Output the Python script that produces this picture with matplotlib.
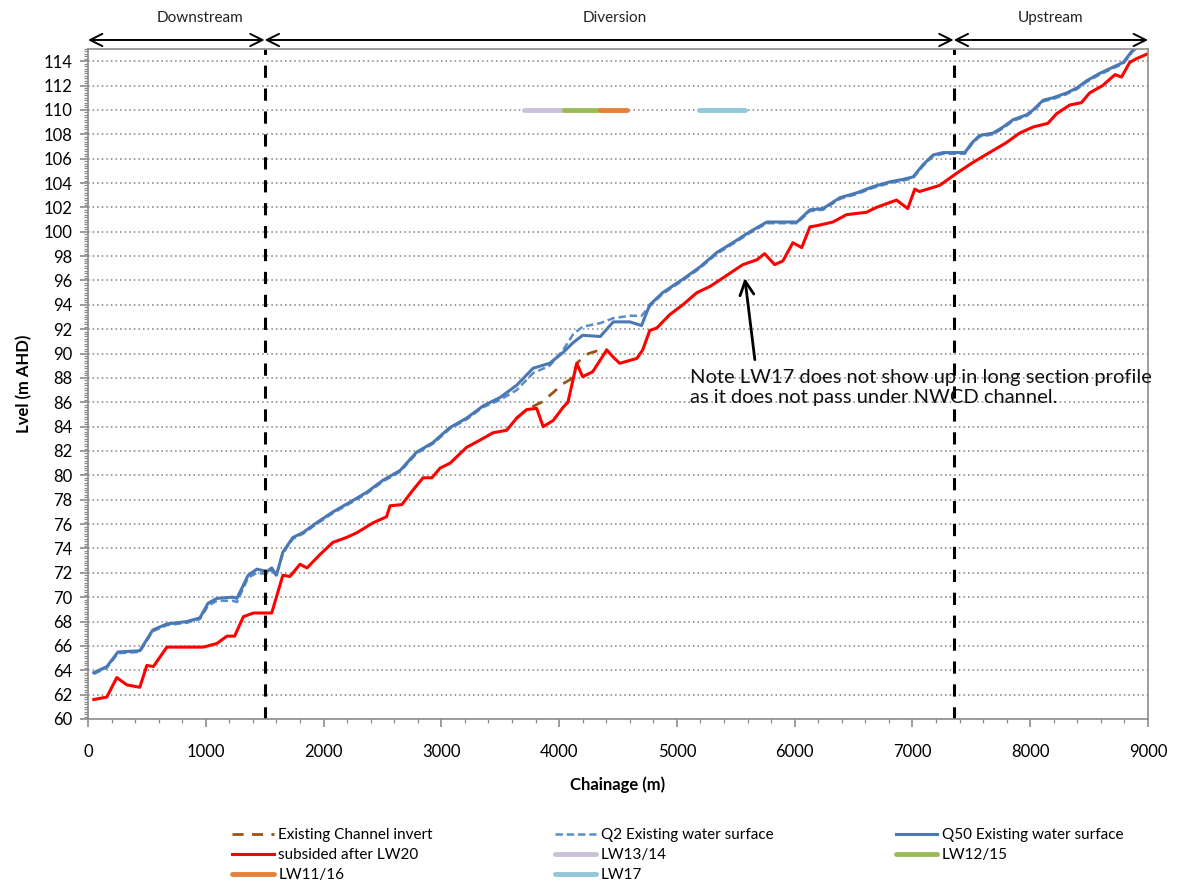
"""
Long section profile: channel invert, water surfaces and subsided bed level
along the chainage, with downstream / diversion / upstream reaches marked.
"""

import matplotlib.pyplot as plt
from matplotlib.ticker import MultipleLocator

plt.rcParams.update({
    'font.family': ['Lato', 'DejaVu Sans'],
    'font.size': 11,
})

# Q50 existing water surface (solid blue) and Q2 (dashed blue)
ws_chainage = [50, 160, 255, 440, 550, 670, 840, 950, 1020, 1095, 1230, 1265,
               1360, 1435, 1520, 1560, 1600, 1655, 1740, 1825, 1940, 2080,
               2225, 2365, 2505, 2650, 2790, 2930, 3070, 3215, 3355, 3500,
               3640, 3780, 3920, 4035, 4120, 4200, 4350, 4460, 4600, 4700,
               4770, 4880, 5050, 5195, 5340, 5475, 5620, 5765, 5900, 6020,
               6130, 6240, 6385, 6530, 6665, 6810, 6920, 7005, 7090, 7175,
               7260, 7445, 7505, 7570, 7685, 7770, 7855, 7970, 8025, 8110,
               8195, 8310, 8395, 8480, 8590, 8700, 8790, 8870, 8920]
q50_level = [63.8, 64.3, 65.5, 65.6, 67.3, 67.8, 68.0, 68.3, 69.5, 69.9, 70.0,
             69.9, 71.8, 72.3, 72.1, 72.4, 71.8, 73.7, 74.9, 75.3, 76.1, 77.0,
             77.8, 78.6, 79.6, 80.4, 81.9, 82.7, 83.9, 84.7, 85.7, 86.4, 87.4,
             88.8, 89.2, 90.1, 90.9, 91.5, 91.4, 92.6, 92.6, 92.3, 94.0, 95.0,
             96.1, 97.1, 98.3, 99.1, 100.0, 100.8, 100.8, 100.8, 101.8, 101.9,
             102.8, 103.2, 103.7, 104.1, 104.3, 104.5, 105.5, 106.3, 106.5,
             106.5, 107.3, 107.9, 108.1, 108.6, 109.2, 109.6, 110.0, 110.8,
             111.0, 111.4, 111.8, 112.4, 113.0, 113.5, 113.9, 114.9, 115.3]
q2_level = [63.7, 64.2, 65.4, 65.5, 67.2, 67.7, 67.9, 68.2, 69.3, 69.7, 69.7,
            69.6, 71.6, 72.0, 71.9, 72.2, 71.8, 73.6, 74.8, 75.2, 76.0, 76.9,
            77.7, 78.5, 79.5, 80.3, 81.8, 82.6, 83.8, 84.6, 85.6, 86.2, 87.0,
            88.4, 89.0, 90.3, 91.6, 92.2, 92.5, 92.9, 93.1, 93.1, 93.9, 94.9,
            96.0, 97.0, 98.2, 99.0, 99.9, 100.7, 100.7, 100.7, 101.7, 101.8,
            102.7, 103.1, 103.6, 104.0, 104.2, 104.4, 105.4, 106.2, 106.4,
            106.4, 107.2, 107.8, 108.0, 108.5, 109.1, 109.5, 109.9, 110.7,
            110.9, 111.3, 111.7, 112.3, 112.9, 113.4, 113.8, 114.8, 115.2]

# bed level subsided after LW20
sub_chainage = [50, 160, 245, 330, 440, 500, 555, 670, 980, 1095, 1180, 1245,
                1320, 1405, 1560, 1655, 1715, 1800, 1860, 1970, 2080, 2195,
                2285, 2420, 2535, 2565, 2665, 2760, 2845, 2920, 2990, 3075,
                3215, 3330, 3440, 3555, 3640, 3725, 3810, 3865, 3950, 4035,
                4075, 4150, 4200, 4285, 4405, 4460, 4515, 4660, 4710, 4770,
                4830, 4940, 5050, 5170, 5280, 5390, 5560, 5680, 5745, 5830,
                5900, 5985, 6060, 6130, 6190, 6325, 6440, 6610, 6695, 6865,
                6960, 7020, 7060, 7230, 7375, 7515, 7655, 7795, 7910, 8025,
                8150, 8225, 8335, 8435, 8505, 8615, 8720, 8775, 8845, 8900, 8995]
sub_level = [61.6, 61.8, 63.4, 62.8, 62.6, 64.4, 64.3, 65.9, 65.9, 66.2, 66.8,
             66.8, 68.4, 68.7, 68.7, 71.8, 71.7, 72.7, 72.4, 73.5, 74.5, 74.9,
             75.3, 76.1, 76.6, 77.5, 77.6, 78.8, 79.8, 79.8, 80.6, 81.0, 82.3,
             82.9, 83.5, 83.7, 84.7, 85.4, 85.5, 84.0, 84.5, 85.6, 86.0, 89.2,
             88.1, 88.5, 90.3, 89.7, 89.2, 89.6, 90.3, 91.9, 92.1, 93.2, 94.0,
             95.0, 95.5, 96.2, 97.3, 97.7, 98.2, 97.3, 97.6, 99.1, 98.7, 100.4,
             100.5, 100.8, 101.4, 101.6, 102.0, 102.6, 101.9, 103.5, 103.3,
             103.8, 104.8, 105.7, 106.5, 107.3, 108.1, 108.6, 108.9, 109.7,
             110.4, 110.6, 111.4, 112.0, 112.9, 112.7, 113.9, 114.2, 114.6]

# existing channel invert where it departs from the subsided profile
inv_chainage = [3640, 3725, 3850, 3950, 4030, 4100, 4160, 4250, 4350, 4405]
inv_level = [84.7, 85.4, 86.0, 86.8, 87.5, 87.9, 89.3, 90.0, 90.3, 90.3]

# longwall panel extents (start, end) shown at 110 m AHD
panel_names = ['LW13/14', 'LW12/15', 'LW11/16', 'LW17']
panel_start = [3700, 4040, 4350, 5190]
panel_end = [4040, 4350, 4580, 5580]
panel_level = 110
panel_colors = ['#CCC0DA', '#9BBB59', '#E3823B', '#93C6D8']

# reach boundaries and where their names sit
reach_bounds = [0, 1500, 7350, 9000]
reach_names = ['Downstream', 'Diversion', 'Upstream']
reach_label_x = [950, 4470, 8170]

fig = plt.figure(figsize=(11.79, 8.85), dpi=100)
ax = fig.add_axes([0.0746, 0.1876, 0.8991, 0.757])

h_inv, = ax.plot(inv_chainage, inv_level, color='#9A5418', lw=2.0,
                 dashes=(4, 3), label='Existing Channel invert')
h_q2, = ax.plot(ws_chainage, q2_level, color='#5B8DCA', lw=1.8,
                dashes=(3, 1.5), label='Q2 Existing water surface')
h_q50, = ax.plot(ws_chainage, q50_level, color='#4A78B4', lw=2.2,
                 solid_joinstyle='round', label='Q50 Existing water surface')
h_sub, = ax.plot(sub_chainage, sub_level, color='#FF0000', lw=2.2,
                 solid_joinstyle='round', label='subsided after LW20')

h_panels = []
for name, x0, x1, c in zip(panel_names, panel_start, panel_end, panel_colors):
    h, = ax.plot([x0, x1], [panel_level, panel_level], color=c, lw=3.5,
                 solid_capstyle='round', label=name)
    h_panels.append(h)

for xb in reach_bounds[1:3]:
    ax.axvline(xb, color='black', lw=2.2, dashes=(4, 3.5))

# reach arrows and names above the plot area
for i, name in enumerate(reach_names):
    x0, x1 = reach_bounds[i], reach_bounds[i + 1]
    ax.annotate('', xy=(x0, 1.0135), xytext=(x1, 1.0135),
                xycoords=('data', 'axes fraction'),
                arrowprops=dict(arrowstyle='<->', lw=1.4, color='black',
                                shrinkA=0, shrinkB=0, mutation_scale=22),
                annotation_clip=False)
    ax.text(reach_label_x[i], 1.046, name, transform=ax.get_xaxis_transform(),
            ha='center', va='center', fontsize=11, color='#222222')

ax.annotate('', xy=(5577, 96.2), xytext=(5662, 89.5),
            arrowprops=dict(arrowstyle='->', lw=2, color='black',
                            shrinkA=0, shrinkB=0, mutation_scale=25))
ax.text(5110, 88.75,
        'Note LW17 does not show up in long section profile\n'
        'as it does not pass under NWCD channel.',
        ha='left', va='top', fontsize=14.5, linespacing=1.25, color='#111111')

ax.set_xlim(0, 9000)
ax.set_ylim(60, 115)
ax.xaxis.set_major_locator(MultipleLocator(1000))
ax.xaxis.set_minor_locator(MultipleLocator(200))
ax.yaxis.set_minor_locator(MultipleLocator(0.2))
ax.set_yticks(range(60, 115, 2))
ax.grid(axis='y', which='major', color='#808080', linestyle=(0, (1, 2)), lw=1.1)

for sp in ax.spines.values():
    sp.set_color('#8C8C8C')
    sp.set_linewidth(1.2)
ax.tick_params(which='major', direction='out', length=6, width=1.2,
               color='#8C8C8C', labelsize=12)
ax.tick_params(which='minor', direction='out', length=3, width=0.9,
               color='#8C8C8C')
ax.tick_params(axis='x', pad=12)
ax.tick_params(axis='y', pad=5)

ax.set_xlabel('Chainage (m)', fontweight='bold', fontsize=12, labelpad=12)
ax.set_ylabel('Lvel (m AHD)', fontweight='bold', fontsize=12, labelpad=8)

# legend entries in column-major order so rows read across
handles = [h_inv, h_sub, h_panels[2], h_q2, h_panels[0], h_panels[3],
           h_q50, h_panels[1]]
fig.legend(handles=handles, labels=[h.get_label() for h in handles],
           loc='upper left', bbox_to_anchor=(0.192, 0.071),
           ncol=3, frameon=False, fontsize=11, handlelength=2.7,
           handletextpad=0.3, columnspacing=8.0, labelspacing=0.38,
           borderaxespad=0)

fig.savefig('out.png', dpi=100)
